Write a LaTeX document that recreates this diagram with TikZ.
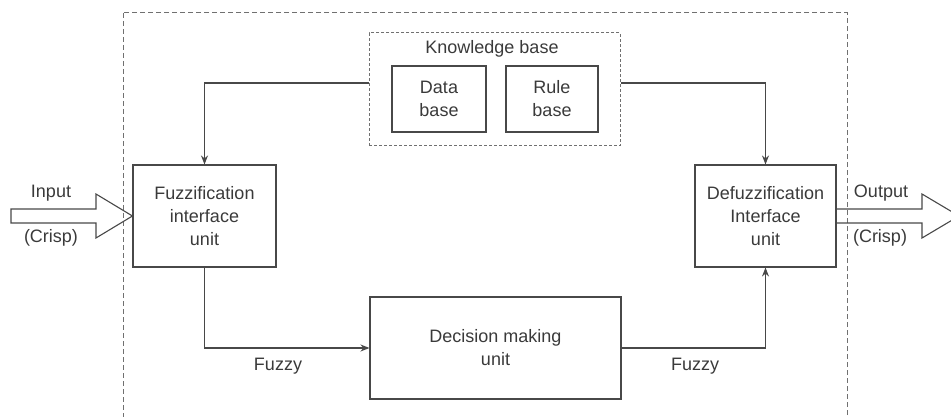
\documentclass[tikz,border=0pt]{standalone}
\usepackage{fontspec}
\setmainfont{Liberation Sans}
\usetikzlibrary{arrows.meta}
\definecolor{ln}{HTML}{484848}
\definecolor{tx}{HTML}{3A3A3A}
\definecolor{dsh}{HTML}{707070}
\tikzset{
  unitbox/.style={draw=ln, line width=1.1pt, rectangle, minimum width=#1, inner sep=0pt, align=center, text=tx, font=\fontsize{18}{23}\selectfont},
  lbl/.style={text=tx, inner sep=0pt, font=\fontsize{18}{23}\selectfont},
  arr/.style={draw=ln, line width=1.1pt, -{Stealth[length=9pt,width=7pt]}},
  conn/.style={draw=ln, line width=1.1pt},
  bigarrow/.style={draw=ln, line width=1.1pt, line join=miter},
}
\begin{document}
\begin{tikzpicture}[x=1pt,y=-1pt]
\useasboundingbox (0,0) rectangle (951,417);
\clip (0,0) rectangle (951,417);
% outer dashed frame
\draw[dsh, line width=1pt, dash pattern=on 5pt off 3pt] (123,13) rectangle (847,440);
% knowledge base
\node[draw=dsh, line width=1pt, dash pattern=on 3pt off 2pt, minimum width=251pt, minimum height=113pt, inner sep=0pt] (kb) at (494.5,89.5) {};
\node[lbl] (kbl) at (492,49) {Knowledge base};
\node[unitbox=94pt, minimum height=66pt] (data) at (439,99) {Data\\base};
\node[unitbox=92pt, minimum height=66pt] (rule) at (552,99) {Rule\\base};
% units
\node[unitbox=143pt, minimum height=102pt] (fuzz) at (204.5,216) {Fuzzification\\interface\\unit};
\node[unitbox=141pt, minimum height=102pt] (defuzz) at (765.5,216) {Defuzzification\\Interface\\unit};
\node[unitbox=251pt, minimum height=102pt] (dec) at (495.5,348) {Decision making\\unit};
% connectors
\draw[arr] ([yshift=6.5pt]kb.west) -| (fuzz.north);
\draw[arr] ([yshift=6.5pt]kb.east) -| (defuzz.north);
\draw[arr] (fuzz.south) |- (dec.west);
\draw[arr] (dec.east) -| (defuzz.south);
\node[lbl] (fz1) at (278,366) {Fuzzy};
\node[lbl] (fz2) at (695,366) {Fuzzy};
% input arrow
\coordinate (intip) at (fuzz.west);
\draw[bigarrow] (11,209) -- (96,209) -- (96,194) -- (intip) -- (96,238) -- (96,223) -- (11,223) -- cycle;
\node[lbl] (inl) at (51,193) {Input};
\node[lbl] (inc) at (51,238) {(Crisp)};
% output arrow
\draw[bigarrow] ([yshift=7pt]defuzz.east) -- (922,209) -- (922,194) -- (959,216) -- (922,238) -- (922,223) -- ([yshift=-7pt]defuzz.east);
\node[lbl] (outl) at (881,193) {Output};
\node[lbl] (outc) at (880,238) {(Crisp)};
\end{tikzpicture}
\end{document}
